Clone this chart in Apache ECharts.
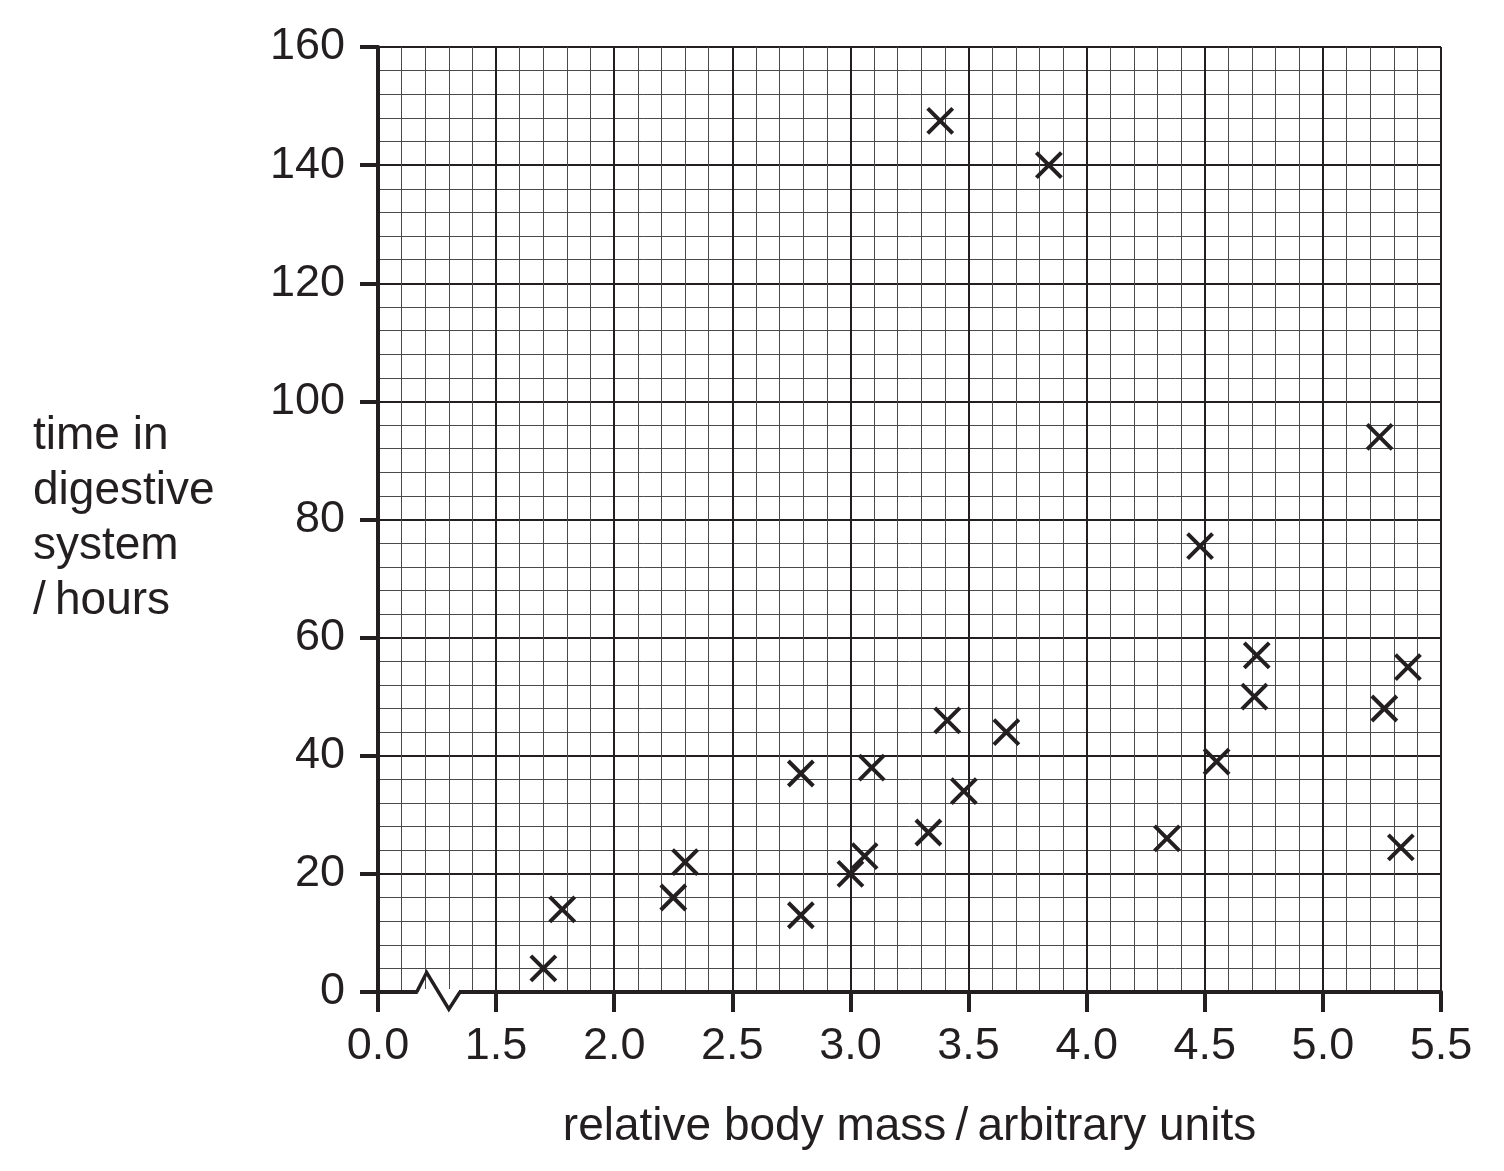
<!DOCTYPE html>
<html>
<head>
<meta charset="utf-8">
<title>time in digestive system vs relative body mass</title>
<script src="https://cdn.jsdelivr.net/npm/echarts@6/dist/echarts.min.js"></script>
<style>
  html, body { margin: 0; padding: 0; background: #fff; }
  #chart { width: 1504px; height: 1171px; }
</style>
</head>
<body>
<div id="chart"></div>
<script>
// relative body mass (x) and time in digestive system in hours (y), one pair per animal
const bodyMass = [1.70, 1.78, 2.25, 2.30, 2.79, 2.79, 3.00, 3.06, 3.09, 3.33, 3.38, 3.41,
                  3.48, 3.66, 3.84, 4.34, 4.48, 4.55, 4.71, 4.72, 5.24, 5.26, 5.33, 5.36]
const hours    = [4, 14, 16, 22, 13, 37, 20, 23, 38, 27, 147.5, 46,
                  34, 44, 140, 26, 75.5, 39, 50, 57, 94, 48, 24.5, 55]

// axis starts at 1.0 but is labelled 0.0 (broken axis)
const xTickLabels = ['0.0', '1.5', '2.0', '2.5', '3.0', '3.5', '4.0', '4.5', '5.0', '5.5']
const yTickLabels = ['0', '20', '40', '60', '80', '100', '120', '140', '160']

// zig-zag break mark on the x axis, in axis units
const breakX = [1.164, 1.206, 1.300, 1.347]
const breakY = [0, 3.3, -2.9, 0]

const ink = '#231f20'
const font = 'Liberation Sans, Arial, Helvetica, sans-serif'

let chart = echarts.init(document.getElementById('chart'), null, {renderer: 'canvas'})

let option = {
    animation: false,
    backgroundColor: '#fff',
    grid: {left: 378, right: 63, top: 47, bottom: 179, containLabel: false, outerBoundsMode: 'none'},
    xAxis: {
        type: 'value',
        min: 1.0,
        max: 5.5,
        interval: 0.5,
        name: 'relative body mass\u2009/\u2009arbitrary units',
        nameLocation: 'middle',
        nameGap: 112,
        nameTextStyle: {color: ink, fontSize: 46, fontFamily: font},
        axisLine: {lineStyle: {color: ink, width: 4}},
        axisTick: {show: true, length: 20, lineStyle: {color: ink, width: 4}},
        axisLabel: {
            color: ink, fontSize: 45, fontFamily: font, margin: 32,
            formatter: (v, i) => xTickLabels[i]
        },
        splitLine: {show: true, lineStyle: {color: ink, width: 2}},
        minorTick: {show: false, splitNumber: 5},
        minorSplitLine: {show: true, lineStyle: {color: '#4a4a4a', width: 1}}
    },
    yAxis: {
        type: 'value',
        min: 0,
        max: 160,
        interval: 20,
        axisLine: {show: true, lineStyle: {color: ink, width: 4}},
        axisTick: {show: true, length: 18, lineStyle: {color: ink, width: 4}},
        axisLabel: {
            color: ink, fontSize: 45, fontFamily: font, margin: 33,
            formatter: (v, i) => yTickLabels[i]
        },
        splitLine: {show: true, lineStyle: {color: ink, width: 2}},
        minorTick: {show: false, splitNumber: 5},
        minorSplitLine: {show: true, lineStyle: {color: '#4a4a4a', width: 1}}
    },
    series: [
        {
            type: 'scatter',
            data: bodyMass.map((x, i) => [x, hours[i]]),
            symbol: 'path://M0,0L10,10M10,0L0,10',
            symbolSize: 25,
            itemStyle: {color: 'transparent', borderColor: ink, borderWidth: 4, opacity: 1},
            z: 5
        }
    ]
}
chart.setOption(option)

// y axis title and the break mark, placed from axis units
const brk = breakX.map((x, i) => chart.convertToPixel({gridIndex: 0}, [x, breakY[i]]))
chart.setOption({
    graphic: [
        {
            type: 'text',
            left: 33,
            top: 409,
            style: {
                text: 'time in\ndigestive\nsystem\n/\u2009hours',
                fill: ink,
                font: '46px ' + font,
                lineHeight: 55
            }
        },
        {
            type: 'rect',
            shape: {x: brk[0][0] + 1, y: brk[0][1] - 3, width: brk[3][0] - brk[0][0] - 2, height: 6},
            style: {fill: '#fff'},
            z: 10
        },
        {
            type: 'polyline',
            shape: {points: brk},
            style: {stroke: ink, lineWidth: 3.5, fill: null, lineJoin: 'miter'},
            z: 11
        }
    ]
})
</script>
</body>
</html>
